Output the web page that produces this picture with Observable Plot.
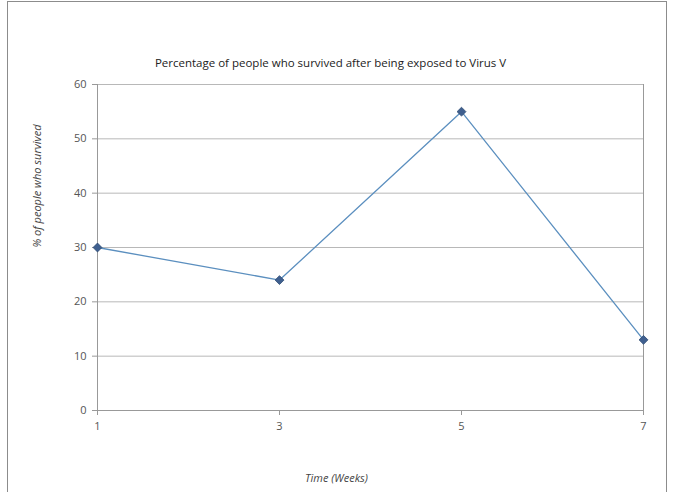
<!DOCTYPE html>
<html>
<head>
<meta charset="utf-8">
<script src="https://cdn.jsdelivr.net/npm/d3@7"></script>
<script src="https://cdn.jsdelivr.net/npm/@observablehq/plot@0.6"></script>
<style>
  body { margin: 0; background: #fff; }
  #wrap { position: relative; width: 677px; height: 492px; overflow: hidden; }
  #border { position: absolute; left: 7px; top: 1px; width: 660px; height: 500px; border: 1px solid #8c8c8c; box-sizing: border-box; pointer-events: none; }
</style>
</head>
<body>
<div id="wrap"><div id="border"></div></div>
<script>
const weeks = [1, 3, 5, 7];
const survived = [30, 24, 55, 13];
const yTicks = [0, 10, 20, 30, 40, 50, 60];
const xTicks = [1, 3, 5, 7];
const titleText = "Percentage of people who survived after being exposed to Virus V";
const xLabel = "Time (Weeks)";
const yLabel = "% of people who survived";

const data = weeks.map((w, i) => ({week: w, value: survived[i]}));
const font = "'Open Sans', Lato, sans-serif";

const chart = Plot.plot({
  width: 677,
  height: 492,
  marginLeft: 97,
  marginRight: 34,
  marginTop: 84,
  marginBottom: 82,
  style: {fontFamily: font, fontSize: "11px", color: "#555", background: "transparent"},
  x: {domain: [1, 7]},
  y: {domain: [0, 60]},
  marks: [
    Plot.gridY(yTicks, {stroke: "#b8b8b8", strokeOpacity: 1}),
    Plot.ruleX([1], {stroke: "#999"}),
    Plot.ruleX([7], {stroke: "#999"}),
    Plot.ruleY([0], {stroke: "#999"}),
    Plot.axisY({ticks: yTicks, tickSize: 5, tickPadding: 6, stroke: "#999", label: null, fill: "#555"}),
    Plot.axisX({ticks: xTicks, tickFormat: "d", tickSize: 5, tickPadding: 7, stroke: "#999", label: null, fill: "#555"}),
    Plot.line(data, {x: "week", y: "value", stroke: "#5b8fbf", strokeWidth: 1.3}),
    Plot.dot(data, {x: "week", y: "value", symbol: "diamond2", r: 4, fill: "#3f5f8f", stroke: "#2c4a72", strokeWidth: 0.8}),
    Plot.text([titleText], {frameAnchor: "top", dy: -26, dx: -40, fontSize: 11.5, fill: "#222", fontFamily: font}),
    Plot.text([xLabel], {frameAnchor: "bottom", dy: 71, dx: -34, fontSize: 11, fontStyle: "italic", fill: "#444", fontFamily: font}),
    Plot.text([yLabel], {frameAnchor: "left", dx: -60, rotate: -90, fontSize: 11, fontStyle: "italic", fill: "#444", fontFamily: font})
  ]
});
document.getElementById("wrap").appendChild(chart);
</script>
</body>
</html>
